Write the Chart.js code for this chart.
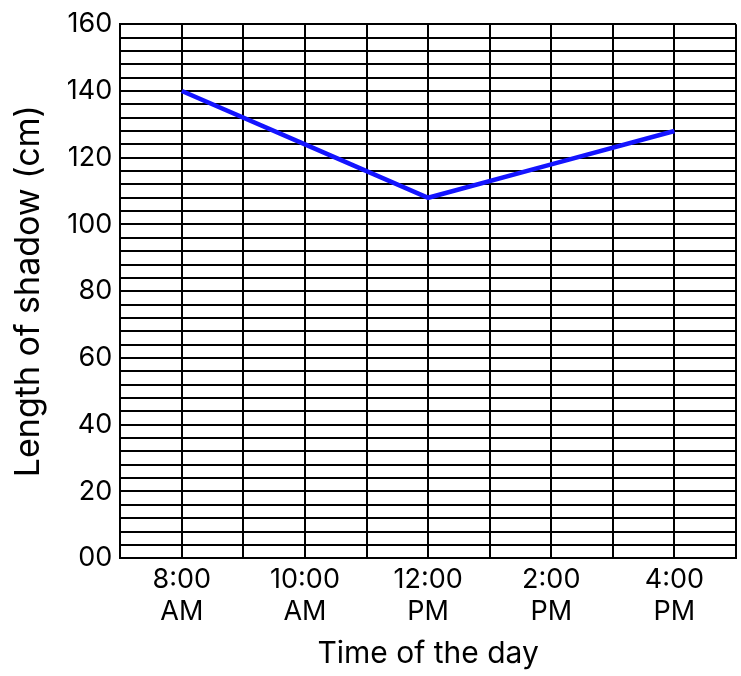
<!DOCTYPE html>
<html>
<head>
<meta charset="utf-8">
<script src="https://cdn.jsdelivr.net/npm/chart.js@4"></script>
<style>
  html, body { margin: 0; padding: 0; background: #fff; }
</style>
</head>
<body>
<canvas id="shadow-chart" width="741" height="676"></canvas>
<script>
/* shadow length over the day */

const timeLabels = [["8:00", "AM"], ["10:00", "AM"], ["12:00", "PM"], ["2:00", "PM"], ["4:00", "PM"]];
const shadowLength = [140, 124, 108, 118, 128];
const yTickLabels = ["00", "20", "40", "60", "80", "100", "120", "140", "160"];

let shadowCanvas = document.getElementById("shadow-chart");

let shadowData = {
    datasets: [{
        data: shadowLength.map((v, i) => ({ x: i, y: v })),
        borderColor: '#1414ff',
        borderWidth: 4.5,
        pointRadius: 0,
        tension: 0
    }]
};

let shadowOptions = {
    responsive: false,
    animation: false,
    devicePixelRatio: 1,
    layout: {
        padding: { top: 6, right: 3, left: 0, bottom: 0 }
    },
    scales: {
        x: {
            type: 'linear',
            min: -0.5,
            max: 4.5,
            afterBuildTicks: axis => {
                let t = [];
                for (let v = -0.5; v <= 4.5001; v += 0.5) t.push({ value: v });
                axis.ticks = t;
            },
            grid: { color: '#000', lineWidth: 2, drawTicks: false },
            border: { color: '#000', width: 2 },
            ticks: {
                autoSkip: false,
                maxRotation: 0,
                padding: 5,
                color: '#000',
                font: { family: 'Inter', size: 27 },
                callback: v => Number.isInteger(v) ? timeLabels[v] : ''
            },
            title: {
                display: true,
                text: 'Time of the day',
                color: '#000',
                font: { family: 'Inter', size: 30 },
                padding: { top: 3, bottom: 4 }
            }
        },
        y: {
            min: 0,
            max: 160,
            afterBuildTicks: axis => {
                let t = [];
                for (let v = 0; v <= 160; v += 4) t.push({ value: v });
                axis.ticks = t;
            },
            grid: { color: '#000', lineWidth: 2, drawTicks: false },
            border: { color: '#000', width: 2 },
            ticks: {
                autoSkip: false,
                padding: 8,
                color: '#000',
                font: { family: 'Inter', size: 27 },
                callback: v => v % 20 === 0 ? yTickLabels[v / 20] : ''
            },
            title: {
                display: true,
                text: 'Length of shadow (cm)',
                color: '#000',
                font: { family: 'Inter', size: 34 },
                padding: { top: 8, bottom: 10 }
            }
        }
    },
    plugins: {
        legend: { display: false },
        tooltip: { enabled: false }
    }
};

let shadowChart = new Chart(shadowCanvas, {
    type: 'line',
    data: shadowData,
    options: shadowOptions
});
</script>
</body>
</html>
